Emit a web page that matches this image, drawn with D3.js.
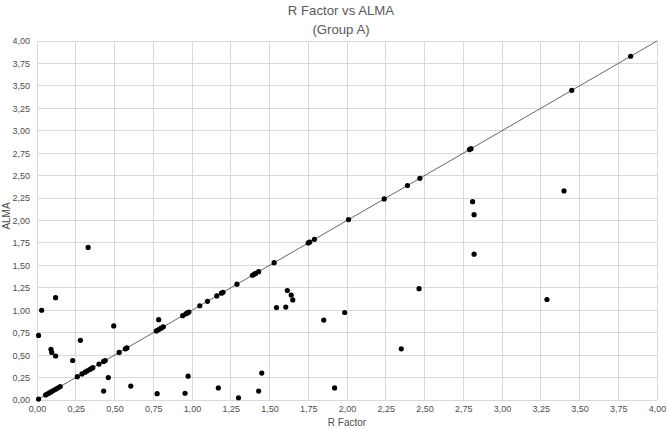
<!DOCTYPE html>
<html>
<head>
<meta charset="utf-8">
<script src="https://cdn.jsdelivr.net/npm/d3@7"></script>
<style>
  body { margin: 0; background: #fff; }
  svg { font-family: "Liberation Sans", Arial, sans-serif; }
</style>
</head>
<body>
<div id="chart"></div>
<script>
// points lying on the identity line (R Factor == ALMA)
const onLine = [0.01, 0.056, 0.069, 0.08, 0.09, 0.105, 0.12, 0.133, 0.15, 0.26, 0.29, 0.31,
  0.325, 0.34, 0.35, 0.36, 0.40, 0.43, 0.44, 0.53, 0.57, 0.58, 0.77, 0.785, 0.80, 0.815,
  0.94, 0.96, 0.97, 0.98, 1.05, 1.10, 1.16, 1.19, 1.20, 1.29, 1.39, 1.40, 1.41, 1.43,
  1.53, 1.75, 1.76, 1.79, 2.01, 2.24, 2.39, 2.47, 2.79, 2.80, 3.45, 3.83];

// points off the line
const rFactor = [0.01, 0.03, 0.12, 0.33, 0.09, 0.095, 0.12, 0.23, 0.28, 0.495, 0.785, 0.43,
  0.46, 0.605, 0.775, 0.955, 0.975, 1.17, 1.30, 1.43, 1.45, 1.92, 1.545, 1.605, 1.615,
  1.64, 1.65, 1.85, 1.985, 2.35, 2.465, 2.81, 2.82, 2.82, 3.40, 3.29];
const alma = [0.72, 1.00, 1.14, 1.70, 0.565, 0.53, 0.49, 0.44, 0.665, 0.825, 0.895, 0.10,
  0.25, 0.155, 0.07, 0.075, 0.265, 0.135, 0.025, 0.10, 0.30, 0.135, 1.03, 1.035, 1.22,
  1.17, 1.115, 0.89, 0.975, 0.57, 1.24, 2.21, 2.065, 1.625, 2.33, 1.12];

const tickValues = d3.range(0, 4.001, 0.25);

const points = onLine.map(v => ({x: v, y: v}))
  .concat(rFactor.map((v, i) => ({x: v, y: alma[i]})));

const W = 668, H = 429;
const margin = {top: 41, right: 11, bottom: 29, left: 37};

const locale = d3.formatLocale({decimal: ",", thousands: ".", grouping: [3], currency: ["", ""]});
const fmt = locale.format(".2f");

const svg = d3.select("#chart").append("svg")
  .attr("width", W)
  .attr("height", H);

const x = d3.scaleLinear().domain([0, 4]).range([margin.left, W - margin.right]);
const y = d3.scaleLinear().domain([0, 4]).range([H - margin.bottom, margin.top]);

// gridlines
svg.append("g")
  .selectAll("line.v")
  .data(tickValues)
  .join("line")
  .attr("x1", d => x(d)).attr("x2", d => x(d))
  .attr("y1", y(0)).attr("y2", y(4))
  .attr("stroke", "#d9d9d9").attr("stroke-width", 1)
  .attr("shape-rendering", "crispEdges");

svg.append("g")
  .selectAll("line.h")
  .data(tickValues)
  .join("line")
  .attr("y1", d => y(d)).attr("y2", d => y(d))
  .attr("x1", x(0)).attr("x2", x(4))
  .attr("stroke", "#d9d9d9").attr("stroke-width", 1)
  .attr("shape-rendering", "crispEdges");

// axes (labels only)
const xAxis = svg.append("g")
  .attr("transform", "translate(0," + y(0) + ")")
  .call(d3.axisBottom(x).tickValues(tickValues).tickFormat(fmt).tickSize(0).tickPadding(6));
const yAxis = svg.append("g")
  .attr("transform", "translate(" + x(0) + ",0)")
  .call(d3.axisLeft(y).tickValues(tickValues).tickFormat(fmt).tickSize(0).tickPadding(7));

[xAxis, yAxis].forEach(a => {
  a.select(".domain").remove();
  a.selectAll("text").attr("fill", "#4d4d4d").style("font-size", "9px");
});

// identity line
svg.append("line")
  .attr("x1", x(0)).attr("y1", y(0))
  .attr("x2", x(4)).attr("y2", y(4))
  .attr("stroke", "#404040").attr("stroke-width", 0.8);

// points
svg.append("g")
  .selectAll("circle")
  .data(points)
  .join("circle")
  .attr("cx", d => x(d.x))
  .attr("cy", d => y(d.y))
  .attr("r", 2.6)
  .attr("fill", "#000");

// titles
svg.append("text")
  .attr("x", 341).attr("y", 15)
  .attr("text-anchor", "middle")
  .attr("fill", "#595959").style("font-size", "13.2px")
  .text("R Factor vs ALMA");
svg.append("text")
  .attr("x", 341).attr("y", 34)
  .attr("text-anchor", "middle")
  .attr("fill", "#595959").style("font-size", "13.2px")
  .text("(Group A)");

svg.append("text")
  .attr("x", x(2)).attr("y", 426)
  .attr("text-anchor", "middle")
  .attr("fill", "#4d4d4d").style("font-size", "10px")
  .text("R Factor");

svg.append("text")
  .attr("transform", "translate(10,216) rotate(-90)")
  .attr("text-anchor", "middle")
  .attr("fill", "#4d4d4d").style("font-size", "10px")
  .text("ALMA");
</script>
</body>
</html>
